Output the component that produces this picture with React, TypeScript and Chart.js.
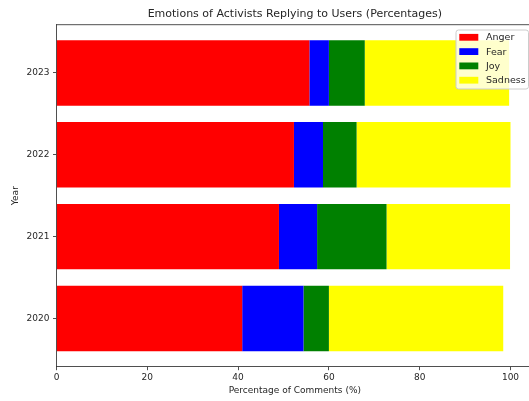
import React, { useEffect, useRef } from "react";
import { Chart, registerables } from "chart.js";

Chart.register(...registerables);

const years = ["2020", "2021", "2022", "2023"];
const anger = [40.9, 49.0, 52.3, 55.7];
const fear = [13.5, 8.4, 6.4, 4.3];
const joy = [5.6, 15.3, 7.4, 7.9];
const sadness = [38.4, 27.2, 33.9, 31.8];
const xTicks = [0, 20, 40, 60, 80, 100];

const FONT = "'DejaVu Sans', sans-serif";
const TXT = "#262626";

const frameAndLegend = {
  id: "frameAndLegend",
  afterDraw(chart: any) {
    const ctx = chart.ctx;
    const a = chart.chartArea;
    ctx.save();
    ctx.strokeStyle = "#222";
    ctx.lineWidth = 0.8;
    ctx.beginPath();
    ctx.moveTo(a.left, a.top);
    ctx.lineTo(a.right, a.top);
    ctx.lineTo(a.right, a.bottom);
    ctx.stroke();

    // legend inside top-right
    const x0 = 456, y0 = 30, w = 72.5, h = 59;
    ctx.fillStyle = "rgba(255,255,255,0.8)";
    ctx.strokeStyle = "#cccccc";
    ctx.lineWidth = 1;
    ctx.beginPath();
    const r = 2.5;
    ctx.moveTo(x0 + r, y0);
    ctx.lineTo(x0 + w - r, y0);
    ctx.quadraticCurveTo(x0 + w, y0, x0 + w, y0 + r);
    ctx.lineTo(x0 + w, y0 + h - r);
    ctx.quadraticCurveTo(x0 + w, y0 + h, x0 + w - r, y0 + h);
    ctx.lineTo(x0 + r, y0 + h);
    ctx.quadraticCurveTo(x0, y0 + h, x0, y0 + h - r);
    ctx.lineTo(x0, y0 + r);
    ctx.quadraticCurveTo(x0, y0, x0 + r, y0);
    ctx.closePath();
    ctx.fill();
    ctx.stroke();

    ctx.font = `9.5px ${FONT}`;
    ctx.textBaseline = "middle";
    ctx.textAlign = "left";
    chart.data.datasets.forEach((ds: any, i: number) => {
      const cy = 37.3 + i * 14.3;
      ctx.fillStyle = ds.backgroundColor;
      ctx.fillRect(459.3, cy - 3.4, 19, 6.8);
      ctx.fillStyle = TXT;
      ctx.fillText(ds.label, 486, cy + 0.5);
    });
    ctx.restore();
  },
};

export default function App() {
  const ref = useRef<HTMLCanvasElement>(null);
  useEffect(() => {
    const toPts = (arr: number[]) => arr.map((v, i) => ({ x: v, y: i }));
    const chart = new Chart(ref.current!, {
      type: "bar",
      data: {
        datasets: [
          { label: "Anger", data: toPts(anger), backgroundColor: "#ff0000" },
          { label: "Fear", data: toPts(fear), backgroundColor: "#0000ff" },
          { label: "Joy", data: toPts(joy), backgroundColor: "#008000" },
          { label: "Sadness", data: toPts(sadness), backgroundColor: "#ffff00" },
        ] as any,
      },
      options: {
        indexAxis: "y",
        animation: false,
        responsive: false,
        maintainAspectRatio: false,
        layout: { padding: { left: 0, right: 11.8, top: 0, bottom: 0 } },
        datasets: { bar: { barPercentage: 0.8, categoryPercentage: 1, borderWidth: 0 } } as any,
        plugins: {
          legend: { display: false },
          tooltip: { enabled: false },
          title: {
            display: true,
            text: "Emotions of Activists Replying to Users (Percentages)",
            fullSize: false,
            color: TXT,
            font: { family: FONT, size: 11, weight: "normal" as any },
            padding: { top: 8, bottom: 3.5 },
          },
        },
        scales: {
          x: {
            type: "linear",
            stacked: true,
            min: 0,
            max: 105,
            afterBuildTicks: (s: any) => {
              s.ticks = xTicks.map((v) => ({ value: v }));
            },
            afterFit: (s: any) => {
              s.height = 34.3;
            },
            grid: { drawOnChartArea: false, drawTicks: true, tickLength: 3.5, color: "#222", lineWidth: 0.8 },
            border: { display: true, color: "#222", width: 0.8 },
            ticks: { color: TXT, font: { family: FONT, size: 9 }, padding: 2, maxRotation: 0 },
            title: {
              display: true,
              text: "Percentage of Comments (%)",
              color: TXT,
              font: { family: FONT, size: 9 },
              padding: { top: 0, bottom: 4.6 },
            },
          },
          y: {
            type: "linear",
            stacked: true,
            offset: false,
            min: -0.59,
            max: 3.59,
            afterBuildTicks: (s: any) => {
              s.ticks = years.map((_, i) => ({ value: i }));
            },
            afterFit: (s: any) => {
              s.width = 56.5;
            },
            grid: { offset: false, drawOnChartArea: false, drawTicks: true, tickLength: 3.5, color: "#222", lineWidth: 0.8 },
            border: { display: true, color: "#222", width: 0.8 },
            ticks: {
              color: TXT,
              font: { family: FONT, size: 9 },
              padding: 3.5,
              callback: (v: any) => years[Math.round(Number(v))] ?? "",
            },
            title: {
              display: true,
              text: "Year",
              color: TXT,
              font: { family: FONT, size: 9 },
              padding: { top: 10.6, bottom: 0 },
            },
          },
        },
      },
      plugins: [frameAndLegend],
    });
    return () => chart.destroy();
  }, []);
  return (
    <div style={{ position: "fixed", left: 0, top: 0, width: 529, height: 401, overflow: "hidden", background: "#fff" }}>
      <canvas ref={ref} width={545} height={401} style={{ width: 545, height: 401, display: "block" }} />
    </div>
  );
}
